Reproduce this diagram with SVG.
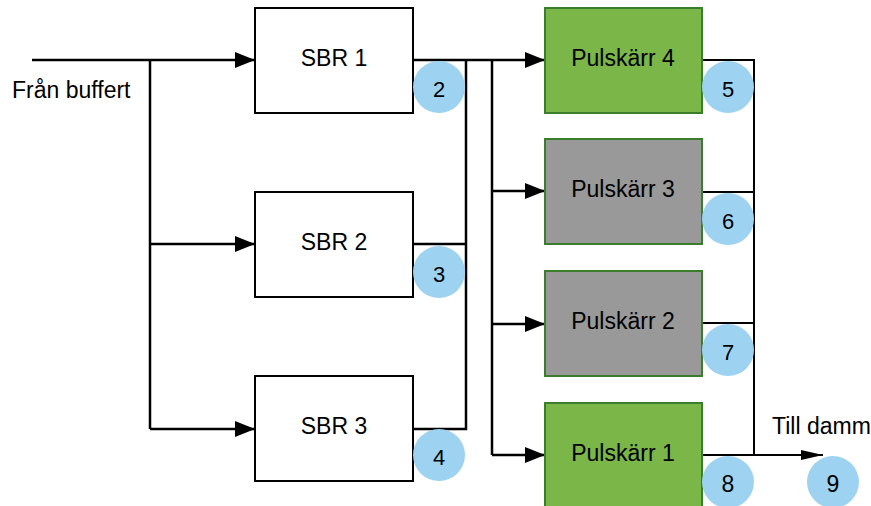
<svg xmlns="http://www.w3.org/2000/svg" width="871" height="506" viewBox="0 0 871 506">
<defs>
<style>
text{font-family:"Liberation Sans",Arial,sans-serif;fill:#000}
.lbl{font-size:23px;text-anchor:middle}
.num{font-size:22px;text-anchor:middle}
.big{font-size:23px}
.box{fill:#fff;stroke:#000;stroke-width:2}
.green{fill:#7ab648;stroke:#3a7d2c;stroke-width:2}
.gray{fill:#999;stroke:#3a7d2c;stroke-width:2}
.c{fill:#9dd3f1}
.w{fill:none;stroke:#000;stroke-width:2.5}
.w2{fill:none;stroke:#000;stroke-width:2}
</style>
<marker id="ah" markerWidth="20" markerHeight="16" refX="20" refY="8" orient="auto" markerUnits="userSpaceOnUse"><path d="M0,0 L20,8 L0,16 z" fill="#000"/></marker>
<marker id="ahs" markerWidth="22" markerHeight="10" refX="22" refY="5" orient="auto" markerUnits="userSpaceOnUse"><path d="M0,0 L22,5 L0,10 z" fill="#000"/></marker>
</defs>
<g id="connectors">
<path class="w" d="M32,60 H255" marker-end="url(#ah)"/>
<path class="w" d="M150,60 V429"/>
<path class="w" d="M150,244 H255" marker-end="url(#ah)"/>
<path class="w" d="M150,429 H255" marker-end="url(#ah)"/>
<path class="w" d="M413,60 H545" marker-end="url(#ah)"/>
<path class="w" d="M413,244 H466"/>
<path class="w" d="M413,429 H466 V60"/>
<path class="w" d="M492,60 V455"/>
<path class="w" d="M492,191 H545" marker-end="url(#ah)"/>
<path class="w" d="M492,324 H545" marker-end="url(#ah)"/>
<path class="w" d="M492,455 H545" marker-end="url(#ah)"/>
<path class="w2" d="M702,60 H754 V455"/>
<path class="w2" d="M702,192 H754"/>
<path class="w2" d="M702,323 H754"/>
<path class="w2" d="M702,455 H823" marker-end="url(#ahs)"/>
</g>
<g id="sbr1"><rect class="box" x="255" y="8" width="158" height="105"/><text class="lbl" x="334" y="66">SBR 1</text></g>
<g id="sbr2"><rect class="box" x="255" y="192" width="158" height="105"/><text class="lbl" x="334" y="250">SBR 2</text></g>
<g id="sbr3"><rect class="box" x="255" y="376" width="158" height="105"/><text class="lbl" x="334" y="434">SBR 3</text></g>
<g id="pk4"><rect class="green" x="545" y="8" width="157" height="105"/><text class="lbl" x="623" y="66">Pulskärr 4</text></g>
<g id="pk3"><rect class="gray" x="545" y="139" width="157" height="105"/><text class="lbl" x="623" y="197">Pulskärr 3</text></g>
<g id="pk2"><rect class="gray" x="545" y="271" width="157" height="105"/><text class="lbl" x="623" y="329">Pulskärr 2</text></g>
<g id="pk1"><rect class="green" x="545" y="403" width="157" height="105"/><text class="lbl" x="623" y="461">Pulskärr 1</text></g>
<g id="in-label"><text x="12" y="98" font-size="23">Från buffert</text></g>
<g id="out-label"><text x="772" y="434" font-size="23">Till damm</text></g>
<g id="n2"><circle class="c" cx="439" cy="87" r="26"/><text class="num" x="439" y="97">2</text></g>
<g id="n3"><circle class="c" cx="439" cy="272" r="26"/><text class="num" x="439" y="282">3</text></g>
<g id="n4"><circle class="c" cx="439" cy="455" r="26"/><text class="num" x="439" y="465">4</text></g>
<g id="n5"><circle class="c" cx="728" cy="87" r="26"/><text class="num" x="728" y="97">5</text></g>
<g id="n6"><circle class="c" cx="728" cy="219" r="26"/><text class="num" x="728" y="229">6</text></g>
<g id="n7"><circle class="c" cx="728" cy="350" r="26"/><text class="num" x="728" y="360">7</text></g>
<g id="n8"><circle class="c" cx="728" cy="482" r="26"/><text class="num big" x="728" y="492">8</text></g>
<g id="n9"><circle class="c" cx="833" cy="482" r="26"/><text class="num big" x="833" y="492">9</text></g>
</svg>
